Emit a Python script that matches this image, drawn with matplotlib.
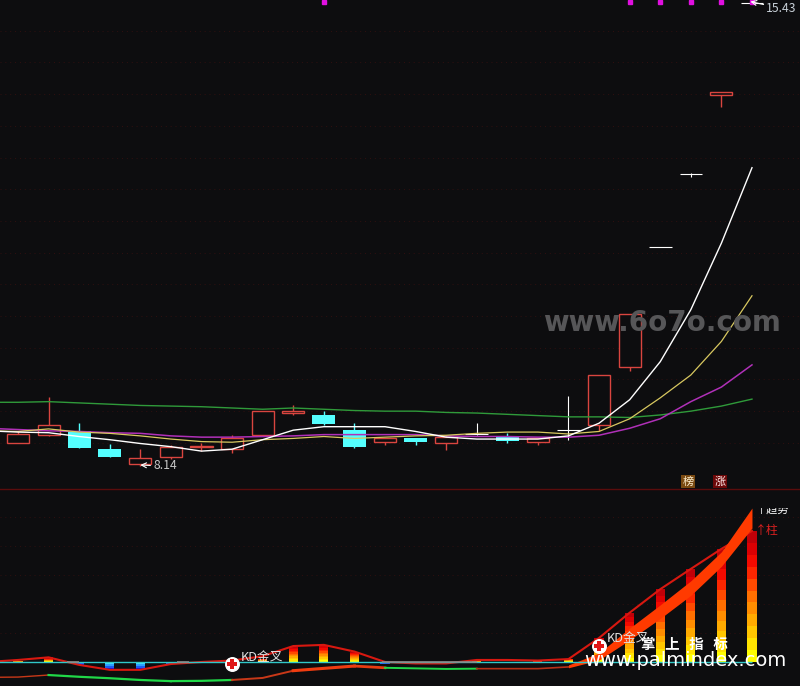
import numpy as np
import matplotlib
matplotlib.use("Agg")
import matplotlib.pyplot as plt
from matplotlib.colors import LinearSegmentedColormap
from matplotlib.transforms import Bbox

plt.rcParams['font.family'] = ['Noto Sans CJK SC', 'DejaVu Sans']

BG = "#0d0d0f"
RED = "#d9453f"
CYAN = "#54ffff"

# candles: open, high, low, close (price)
opens = [8.49,8.63,8.69,8.40,8.16,8.28,8.43,8.41,8.63,8.97,8.94,8.70,8.52,8.57,8.50,8.64,8.59,8.52,8.70,8.78,9.70,11.59,12.74,13.99,15.43]
highs = [8.69,9.22,8.81,8.48,8.40,8.46,8.49,8.62,9.01,9.10,9.00,8.81,8.57,8.57,8.62,8.81,8.66,8.57,9.24,9.57,10.53,11.59,12.76,14.03,15.43]
lows = [8.49,8.61,8.42,8.27,8.14,8.25,8.37,8.34,8.63,8.94,8.78,8.42,8.46,8.47,8.38,8.62,8.49,8.46,8.55,8.69,9.64,11.59,12.69,13.79,15.43]
closes = [8.64,8.78,8.42,8.28,8.26,8.44,8.45,8.58,9.01,9.01,8.80,8.43,8.57,8.52,8.59,8.64,8.53,8.57,8.70,9.57,10.53,11.59,12.74,14.03,15.43]

# moving averages, first value is the bar just off the left edge
ma5 = [8.69,8.67,8.66,8.60,8.55,8.49,8.44,8.37,8.40,8.55,8.70,8.755,8.755,8.755,8.68,8.59,8.56,8.56,8.56,8.61,8.81,9.18,9.78,10.60,11.65,12.84]
ma10 = [8.69,8.68,8.72,8.67,8.65,8.61,8.56,8.52,8.51,8.55,8.57,8.60,8.57,8.59,8.61,8.62,8.65,8.67,8.67,8.64,8.68,8.88,9.21,9.57,10.10,10.82]
ma20 = [8.73,8.71,8.69,8.68,8.66,8.65,8.61,8.59,8.59,8.60,8.61,8.63,8.63,8.63,8.63,8.61,8.60,8.60,8.59,8.59,8.62,8.73,8.88,9.15,9.38,9.73]
ma60 = [9.14,9.14,9.15,9.13,9.11,9.09,9.08,9.07,9.05,9.03,9.05,9.03,9.01,9.00,9.00,8.98,8.97,8.95,8.93,8.91,8.91,8.90,8.94,9.00,9.08,9.19]
limit_days = [10,20,21,22,23,24]

# lower indicator
columns = [0.05,0.16,-0.10,-0.27,-0.27,-0.07,0,0.05,0.12,0.53,0.59,0.36,-0.07,-0.05,-0.07,0.05,0,0.03,0.12,0.83,1.70,2.51,3.21,3.90,4.52]
signal = [0,0.07,0.16,-0.10,-0.27,-0.27,-0.07,0,0.05,0.20,0.55,0.59,0.36,0,-0.05,-0.05,0.07,0.07,0.05,0.10,0.83,1.70,2.51,3.21,3.90,4.52]
trend = [-0.53,-0.52,-0.45,-0.51,-0.56,-0.62,-0.66,-0.65,-0.62,-0.55,-0.30,-0.22,-0.14,-0.20,-0.22,-0.24,-0.23,-0.23,-0.23,-0.17]
band_hi = [-0.10,0.31,1.17,1.97,2.80,3.80,5.31]
band_lo = [-0.20,0.07,0.76,1.50,2.30,3.30,4.62]
cross_days = [7,19]
cross_vals = [-0.07,0.55]
flat_from = [1.6,5.2,11.9]
flat_to = [2,5.6,15]

x = np.arange(25)
x_ma = np.arange(-1,25)
xlim = (-0.5886,25.57)

fig = plt.figure(figsize=(8,6.86),dpi=100,facecolor=BG)
ax = fig.add_axes([0,1-488/686,1,488/686],facecolor=BG)
ax2 = fig.add_axes([0,0,1,197/686],facecolor=BG)
for a in (ax,ax2):
    a.set_xlim(xlim)
    a.axis("off")
ax.set_ylim(7.788,15.485)
ax2.set_ylim(-0.828,5.966)

#grids
for p in np.arange(8.5,15.5,0.5):
    ax.axhline(p,color="#301010",lw=0.7,ls=(0,(1,4)),zorder=1)
for v in range(1,6):
    ax2.axhline(v,color="#301010",lw=0.7,ls=(0,(1,4)),zorder=1)
fig.add_artist(plt.Line2D([0,1],[1-488.5/686]*2,color="#5a0c0c",lw=1))

#candles
for i in x:
    o,h,l,c = opens[i],highs[i],lows[i],closes[i]
    if o==c:
        ax.vlines(i,l,h,color="white",lw=0.8,zorder=3)
        ax.hlines(c,i-0.37,i+0.37,color="white",lw=0.8,zorder=3)
    elif c>o:
        ax.vlines(i,l,h,color=RED,lw=1,zorder=2)
        ax.bar(i,c-o,bottom=o,width=0.72,facecolor=BG,edgecolor=RED,lw=1,zorder=3)
    else:
        ax.vlines(i,l,h,color=CYAN,lw=1,zorder=2)
        ax.bar(i,o-c,bottom=c,width=0.75,color=CYAN,lw=0,zorder=3)

ax.plot(x_ma,ma60,color="#2f9a3a",lw=1,zorder=4)
ax.plot(x_ma,ma20,color="#b030b8",lw=1.1,zorder=5)
ax.plot(x_ma,ma10,color="#d8c860",lw=0.9,zorder=6)
ax.plot(x_ma,ma5,color="white",lw=1,zorder=7)

ax.plot(limit_days,[15.46]*len(limit_days),ls="",marker="s",ms=2.6,color="#e010e0",zorder=8)

ax.annotate("8.14",xy=(4,8.15),xytext=(4.42,8.135),color="#c8c8c8",fontsize=8.8,va="center",
            arrowprops=dict(arrowstyle="->",color="white",lw=0.8,shrinkA=0,shrinkB=0),zorder=9)
ax.annotate("15.43",xy=(23.95,15.46),xytext=(24.47,15.35),color="#c8d0d8",fontsize=8.8,va="center",
            arrowprops=dict(arrowstyle="->",color="white",lw=0.8,shrinkA=0,shrinkB=0),zorder=9)

ax.text(21.9,7.89,"榜",color="#fff0d0",fontsize=8,ha="center",va="center",
        bbox=dict(boxstyle="square,pad=0.12",fc="#7a4a12",ec="none"),zorder=9)
ax.text(22.95,7.89,"涨",color="#ffe8e8",fontsize=8,ha="center",va="center",
        bbox=dict(boxstyle="square,pad=0.12",fc="#6c0808",ec="none"),zorder=9)

ax.text(0.828,0.338,"www.6o7o.com",transform=ax.transAxes,color="#565658",fontsize=20,
        fontweight="bold",ha="center",va="center",family="DejaVu Sans",zorder=10)

#indicator columns
pos_cmap = LinearSegmentedColormap.from_list("pos",["#ffff00","#ffd000","#ffa000","#ff7000","#ff3000","#f00000","#c00008"])
neg_cmap = LinearSegmentedColormap.from_list("neg",["#40e0ff","#2080ff","#1010e0"])
steps = 11
for i in x:
    v = columns[i]
    if v==0:
        continue
    cmap = pos_cmap if v>0 else neg_cmap
    n = steps if abs(v)>0.3 else 4
    edges = np.linspace(0,v,n+1)
    for k in range(n):
        ax2.bar(i,edges[k+1]-edges[k],bottom=edges[k],width=0.3,color=cmap(k/(n-1)),lw=0,zorder=3)

ax2.plot(x_ma,signal,color="#d81810",lw=1.5,zorder=4)
ax2.hlines(0,-0.7,24,color="#30c8c8",lw=1,zorder=5)
for a0,b0 in zip(flat_from,flat_to):
    ax2.hlines(0,a0,b0,color="#8a8a8a",lw=1.2,zorder=6)

# trend line below zero, green when falling and orange when rising
t_x = np.arange(-1,19)
for a0,b0,col,w in [(-1,1,"#c83818",1),(1,5,"#20d848",1.6),(5,7,"#20d848",1.6),(7,9,"#c83818",1.4),
                    (9,11,"#f03c10",2.2),(11,12,"#e83c10",2),(12,15,"#20d848",1.4),(15,18,"#b83018",1.2)]:
    m = (t_x>=a0)&(t_x<=b0)
    ax2.plot(t_x[m],np.array(trend)[m],color=col,lw=w,zorder=4)
ax2.fill_between(np.arange(18,25),band_lo,band_hi,color="#ff3a00",lw=0,zorder=4)

ax2.scatter(cross_days,cross_vals,s=95,color="white",zorder=7)
ax2.scatter(cross_days,cross_vals,s=42,marker="P",color="#e01818",lw=0,zorder=8)
ax2.text(7.27,0.17,"KD金叉",color="#e0e0e0",fontsize=9.2,va="center",zorder=9)
ax2.text(19.25,0.82,"KD金叉",color="#e0e0e0",fontsize=9.2,va="center",zorder=9)

t = ax2.text(24.1,5.26,"↑趋势",color="white",fontsize=8,va="center",zorder=9)
t.set_clip_box(Bbox([[0,0],[800,178]]))
t.set_clip_on(True)
ax2.text(24.1,4.52,"↑柱",color="#d82020",fontsize=8.6,va="center",zorder=9)

ax2.text(0.855,0.208,"掌   上   指   标",transform=ax2.transAxes,color="white",fontsize=10.4,
         fontweight="bold",ha="center",va="center",zorder=10)
ax2.text(0.857,0.127,"www.palmindex.com",transform=ax2.transAxes,color="white",fontsize=14,
         ha="center",va="center",family="DejaVu Sans",zorder=10)

fig.savefig("out.png",dpi=100,facecolor=BG)
